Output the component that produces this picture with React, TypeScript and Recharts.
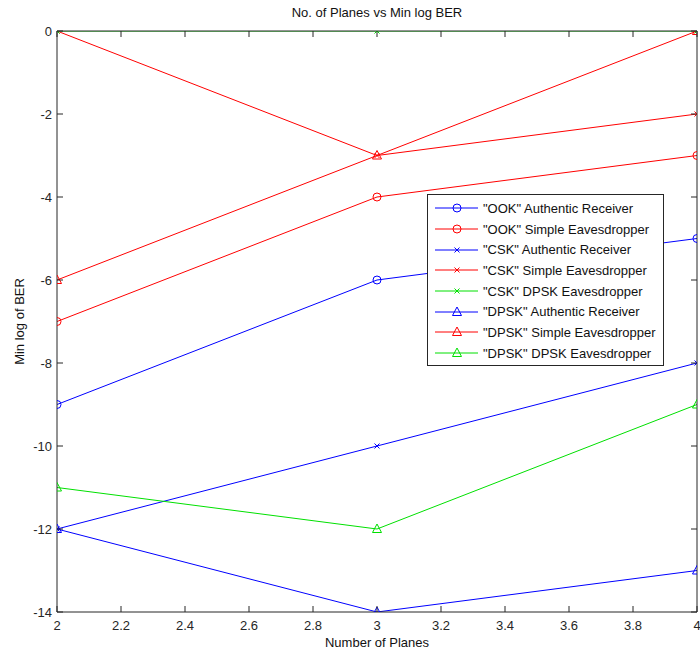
import React from 'react';
import { LineChart, Line, XAxis, YAxis, Legend } from 'recharts';

const planes = [2, 3, 4];
const ookAuthentic = [-9, -6, -5];
const ookSimple = [-7, -4, -3];
const cskAuthentic = [-12, -10, -8];
const cskSimple = [0, -3, -2];
const cskDpsk = [0, 0, 0];
const dpskAuthentic = [-12, -14, -13];
const dpskSimple = [-6, -3, 0];
const dpskDpsk = [-11, -12, -9];

const xTicks = [2, 2.2, 2.4, 2.6, 2.8, 3, 3.2, 3.4, 3.6, 3.8, 4];
const yTicks = [-14, -12, -10, -8, -6, -4, -2, 0];

const title = 'No. of Planes vs Min log BER';
const xLabel = 'Number of Planes';
const yLabel = 'Min log of BER';

const BLUE = '#0000ff';
const RED = '#ff0000';
const GREEN = '#00e000';

type Marker = 'circle' | 'x' | 'triangle';

const series: { key: string; name: string; values: number[]; color: string; marker: Marker }[] = [
  { key: 'ookA', name: '"OOK" Authentic Receiver', values: ookAuthentic, color: BLUE, marker: 'circle' },
  { key: 'ookS', name: '"OOK" Simple Eavesdropper', values: ookSimple, color: RED, marker: 'circle' },
  { key: 'cskA', name: '"CSK" Authentic Receiver', values: cskAuthentic, color: BLUE, marker: 'x' },
  { key: 'cskS', name: '"CSK" Simple Eavesdropper', values: cskSimple, color: RED, marker: 'x' },
  { key: 'cskD', name: '"CSK" DPSK Eavesdropper', values: cskDpsk, color: GREEN, marker: 'x' },
  { key: 'dpskA', name: '"DPSK" Authentic Receiver', values: dpskAuthentic, color: BLUE, marker: 'triangle' },
  { key: 'dpskS', name: '"DPSK" Simple Eavesdropper', values: dpskSimple, color: RED, marker: 'triangle' },
  { key: 'dpskD', name: '"DPSK" DPSK Eavesdropper', values: dpskDpsk, color: GREEN, marker: 'triangle' },
];

const data = planes.map((p, i) => {
  const row: Record<string, number> = { x: p };
  series.forEach((s) => {
    row[s.key] = s.values[i];
  });
  return row;
});

const FONT = '"Liberation Sans", Arial, sans-serif';
const AXIS = '#262626';
const FS = 13;

function MarkerShape({ cx, cy, marker, color }: { cx: number; cy: number; marker: Marker; color: string }) {
  if (marker === 'circle') {
    return <circle cx={cx} cy={cy} r={4} fill="none" stroke={color} strokeWidth={1} />;
  }
  if (marker === 'x') {
    const d = 2.5;
    return (
      <g stroke={color} strokeWidth={1}>
        <line x1={cx - d} y1={cy - d} x2={cx + d} y2={cy + d} />
        <line x1={cx - d} y1={cy + d} x2={cx + d} y2={cy - d} />
      </g>
    );
  }
  return (
    <polygon
      points={`${cx},${cy - 5} ${cx - 4.5},${cy + 3.5} ${cx + 4.5},${cy + 3.5}`}
      fill="none"
      stroke={color}
      strokeWidth={1}
    />
  );
}

const fmt = (v: number) => String(Number(v.toFixed(1)));

const BottomTick = (props: any) => {
  const { x, y, payload } = props;
  return (
    <g>
      <line x1={x} x2={x} y1={y} y2={y - 6} stroke={AXIS} strokeWidth={1} />
      <text x={x} y={y + 18} textAnchor="middle" fontSize={FS} fontFamily={FONT} fill={AXIS}>
        {fmt(payload.value)}
      </text>
    </g>
  );
};

const TopTick = (props: any) => {
  const { x, y } = props;
  return <line x1={x} x2={x} y1={y} y2={y + 6} stroke={AXIS} strokeWidth={1} />;
};

const LeftTick = (props: any) => {
  const { x, y, payload } = props;
  return (
    <g>
      <line x1={x} x2={x + 6} y1={y} y2={y} stroke={AXIS} strokeWidth={1} />
      <text x={x - 5} y={y + 5} textAnchor="end" fontSize={FS} fontFamily={FONT} fill={AXIS}>
        {fmt(payload.value)}
      </text>
    </g>
  );
};

const RightTick = (props: any) => {
  const { x, y } = props;
  return <line x1={x} x2={x - 6} y1={y} y2={y} stroke={AXIS} strokeWidth={1} />;
};

const LegendBox = () => (
  <div
    style={{
      width: 237,
      height: 172,
      border: `1px solid ${AXIS}`,
      background: '#fff',
      boxSizing: 'border-box',
      paddingTop: 3,
      fontFamily: FONT,
      fontSize: FS,
      color: '#111',
    }}
  >
    {series.map((s) => (
      <div key={s.key} style={{ height: 20.7, display: 'flex', alignItems: 'center' }}>
        <svg width={55} height={14} style={{ display: 'block' }}>
          <line x1={7} x2={50} y1={7} y2={7} stroke={s.color} strokeWidth={1} />
          <MarkerShape cx={29} cy={7} marker={s.marker} color={s.color} />
        </svg>
        <span style={{ whiteSpace: 'nowrap' }}>{s.name}</span>
      </div>
    ))}
  </div>
);

export default function App() {
  return (
    <div style={{ position: 'absolute', left: 0, top: 0, width: 700, height: 652, background: '#fff' }}>
      <div
        style={{
          position: 'absolute',
          left: 57,
          top: 5,
          width: 640,
          textAlign: 'center',
          fontFamily: FONT,
          fontSize: FS,
          lineHeight: '15px',
          color: '#111',
        }}
      >
        {title}
      </div>
      <LineChart
        width={700}
        height={652}
        data={data}
        margin={{ top: 1, right: 0, bottom: 0, left: 0 }}
        style={{ fontFamily: FONT }}
      >
        <XAxis
          dataKey="x"
          type="number"
          domain={[2, 4]}
          ticks={xTicks}
          allowDataOverflow
          height={40}
          tickSize={0}
          tickMargin={0}
          tick={<BottomTick />}
          axisLine={{ stroke: AXIS }}
          interval={0}
          label={{ value: xLabel, position: 'insideBottom', offset: 5, fontSize: FS, fill: '#111', fontFamily: FONT }}
        />
        <XAxis
          xAxisId="top"
          orientation="top"
          dataKey="x"
          type="number"
          domain={[2, 4]}
          ticks={xTicks}
          allowDataOverflow
          height={30}
          tickSize={0}
          tickMargin={0}
          tick={<TopTick />}
          axisLine={{ stroke: AXIS }}
          interval={0}
        />
        <YAxis
          type="number"
          domain={[-14, 0]}
          ticks={yTicks}
          allowDataOverflow
          width={57}
          tickSize={0}
          tickMargin={0}
          tick={<LeftTick />}
          axisLine={{ stroke: AXIS }}
          interval={0}
          label={{
            value: yLabel,
            angle: -90,
            position: 'insideLeft',
            offset: 19,
            style: { textAnchor: 'middle' },
            fontSize: FS,
            fill: '#111',
            fontFamily: FONT,
          }}
        />
        <YAxis
          yAxisId="right"
          orientation="right"
          type="number"
          domain={[-14, 0]}
          ticks={yTicks}
          allowDataOverflow
          width={3}
          tickSize={0}
          tickMargin={0}
          tick={<RightTick />}
          axisLine={{ stroke: AXIS }}
          interval={0}
        />
        <Legend
          layout="vertical"
          align="center"
          verticalAlign="middle"
          content={<LegendBox />}
          wrapperStyle={{ left: 427, top: 194, width: 237, height: 172 }}
        />
        {series.map((s) => (
          <Line
            key={s.key}
            dataKey={s.key}
            name={s.name}
            stroke={s.color}
            strokeWidth={1}
            isAnimationActive={false}
            dot={(p: any) => (
              <MarkerShape key={`${s.key}-${p.index}`} cx={p.cx} cy={p.cy} marker={s.marker} color={s.color} />
            )}
            activeDot={false}
          />
        ))}
      </LineChart>
    </div>
  );
}
